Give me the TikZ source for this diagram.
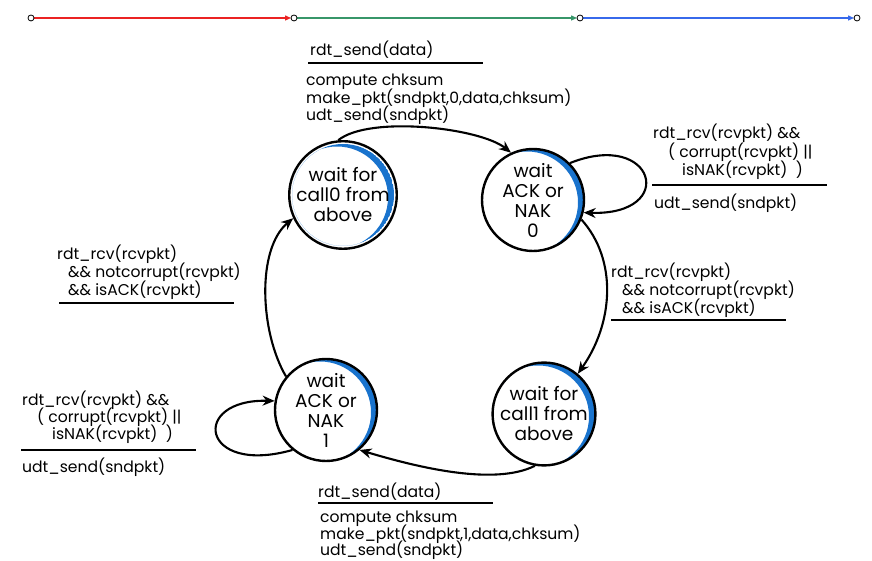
\documentclass[tikz,border=0pt]{standalone}
\usepackage{fontspec}
\setmainfont{Poppins}
\usetikzlibrary{arrows.meta,backgrounds}
\definecolor{crescent}{RGB}{25,115,205}
\definecolor{segred}{RGB}{235,35,35}
\definecolor{seggreen}{RGB}{55,150,105}
\definecolor{segblue}{RGB}{55,105,235}
\newcommand{\lines}[1]{\fontsize{15.6}{#1}\selectfont\lineskiplimit-100pt\relax}
\newcommand{\statefont}{\fontsize{18.5}{20}\selectfont\lineskiplimit-100pt\relax}

\begin{document}
\begin{tikzpicture}[x=1pt, y=1pt]

    % let's define some key values
    \def\rad{51}
    \useasboundingbox (0,0) rectangle (872,561);
    \coordinate (t0) at (31,543);
    \coordinate (t1) at (294,543);
    \coordinate (t2) at (580,543);
    \coordinate (t3) at (857,543);

    % Styles
    \tikzstyle{state}=[circle, draw, line width=2.4pt, minimum size=102pt, inner sep=0pt, align=center, font=\statefont]
    \tikzstyle{trans}=[line width=2.1pt, -{Stealth[length=12pt,width=10pt]}]
    \tikzstyle{txt}=[anchor=base west, inner sep=0pt, align=left, font=\lines{18}]
    \tikzstyle{bar}=[line width=2.8pt]
    \tikzstyle{seg}=[line width=1.3pt, shorten <=3pt, shorten >=3pt, -{Triangle[length=6pt,width=5pt]}]

    % timeline
    \draw[seg, segred] (t0) -- (t1);
    \draw[seg, seggreen] (t1) -- (t2);
    \draw[seg, segblue] (t2) -- (t3);
    \foreach \t in {t0,t1,t2,t3}
        \draw[line width=0.8pt, fill=white] (\t) circle (3);

    % states
    \node[state] (call0) at (343,366) {wait for\\call0 from\\above};
    \node[state] (ack0) at (533,361) {wait\\ACK or\\NAK\\0};
    \node[state] (call1) at (544,147) {wait for\\call1 from\\above};
    \node[state] (ack1) at (326,151) {wait\\ACK or\\NAK\\1};

    \begin{scope}[on background layer]
    \foreach \s in {call0,ack0,call1,ack1} {
        \begin{scope}
        \clip (\s.center) circle (\rad);
        \fill[crescent, even odd rule] (\s.center) circle (\rad) ([shift={(-6,-2.5)}]\s.center) circle (\rad);
        \end{scope}
    }
    \end{scope}

    % transitions
    \draw[trans] (call0.95) .. controls +(31,25) and +(-31,25) .. (ack0.115);
    \draw[trans] (ack0.45) .. controls +(85,34) and +(95,-3) .. (ack0.-14);
    \draw[trans] (ack0.-22) .. controls +(36,-40) and +(36,51) .. (call1.50);
    \draw[trans] (call1.-100) .. controls +(-40,-20) and +(60,-18) .. (ack1.-50);
    \draw[trans] (ack1.-130) .. controls +(-92,-26) and +(-85,2) .. (ack1.170);
    \draw[trans] (ack1.140) .. controls +(-26,44) and +(-37,-31) .. (call0.205);

    % guards and actions (base = last line)
    \node[txt] (g01) at (310,505) {rdt\_send(data)};
    \draw[bar] (308,498) -- (483,498);
    \node[txt, font=\lines{17.5}] (a01) at (306,440) {compute chksum\\make\_pkt(sndpkt,0,data,chksum)\\udt\_send(sndpkt)};

    \node[txt, font=\lines{18.5}] (g00) at (653,385) {rdt\_rcv(rcvpkt) \&\&\\\hspace*{15pt}( corrupt(rcvpkt) ||\\\hspace*{29pt}isNAK(rcvpkt)\ \ )};
    \draw[bar] (652,376) -- (827,376);
    \node[txt] (a00) at (654,352) {udt\_send(sndpkt)};

    \node[txt] (g12) at (611,247) {rdt\_rcv(rcvpkt)\\\hspace*{11pt}\&\& notcorrupt(rcvpkt)\\\hspace*{11pt}\&\& isACK(rcvpkt)};
    \draw[bar] (611,241) -- (786,241);

    \node[txt] (g23) at (318,63) {rdt\_send(data)};
    \draw[bar] (318,58) -- (493,58);
    \node[txt, font=\lines{16.5}] (a23) at (320,5) {compute chksum\\make\_pkt(sndpkt,1,data,chksum)\\udt\_send(sndpkt)};

    \node[txt, font=\lines{17}] (g33) at (22,121) {rdt\_rcv(rcvpkt) \&\&\\\hspace*{15pt}( corrupt(rcvpkt) ||\\\hspace*{30pt}isNAK(rcvpkt)\ \ )};
    \draw[bar] (21,111) -- (196,111);
    \node[txt] (a33) at (22,88) {udt\_send(sndpkt)};

    \node[txt] (g30) at (57,265) {rdt\_rcv(rcvpkt)\\\hspace*{11pt}\&\& notcorrupt(rcvpkt)\\\hspace*{11pt}\&\& isACK(rcvpkt)};
    \draw[bar] (59,258) -- (234,258);

\end{tikzpicture}
\end{document}
